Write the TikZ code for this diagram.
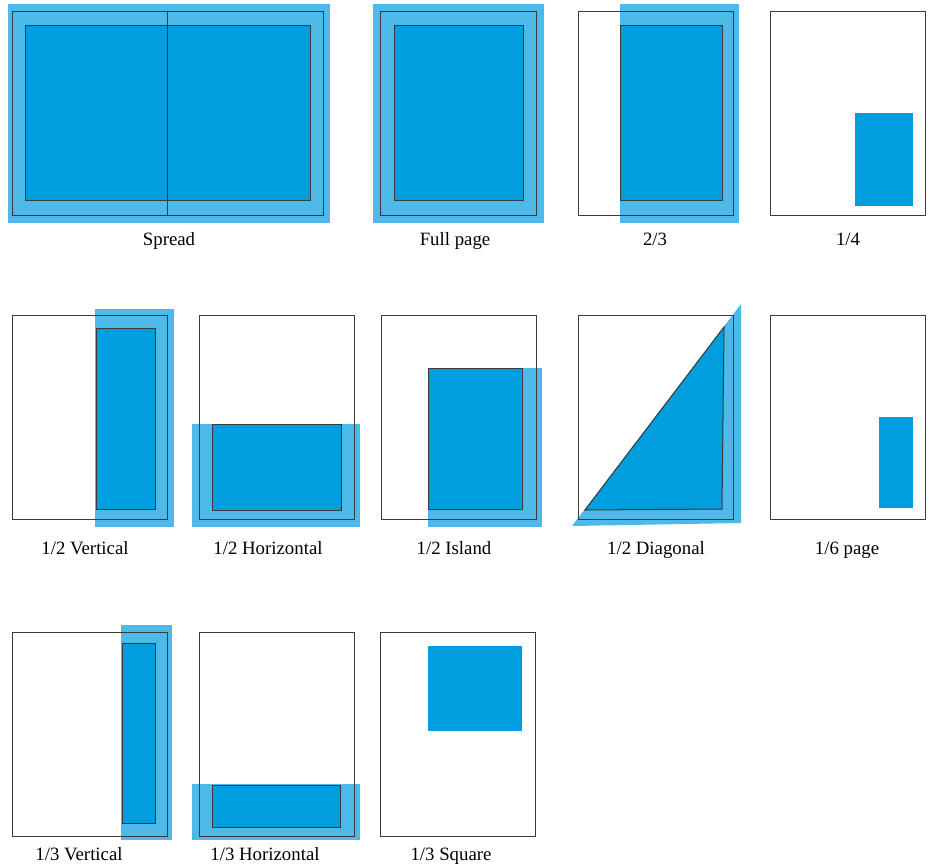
\documentclass[tikz,border=0pt]{standalone}
\usepackage{fontspec}
\setmainfont{Liberation Serif}
\usepackage{xcolor}
\usepackage{tikz}
\definecolor{bleedblue}{HTML}{4DB9E9}
\definecolor{adblue}{HTML}{009DDF}
\definecolor{trimgray}{HTML}{3A3A3A}
\tikzset{
  bleed/.style={fill=bleedblue,draw=none},
  trim/.style={draw=trimgray,line width=0.5pt},
  live/.style={fill=adblue,draw=trimgray,line width=0.5pt},
  adblock/.style={fill=adblue,draw=none},
  caption/.style={anchor=base,inner sep=0pt,font=\fontsize{9.4}{11}\selectfont}
}

\begin{document}
\begin{tikzpicture}[x=0.5pt, y=-0.5pt]
    \useasboundingbox (0,0) rectangle (929,863);

    \fill[bleed] (8,4) rectangle (330,223);
    \draw[trim] (12,11) rectangle (323,215);
    \draw[live] (25,25) rectangle (310,200);
    \draw[trim] (167.5,11) -- (167.5,215);
    \node[caption] (spread) at (169,245) {Spread};

    \fill[bleed] (373,4) rectangle (544,223);
    \draw[trim] (380,11) rectangle (536,215);
    \draw[live] (394,25) rectangle (523,200);
    \node[caption] (fullpage) at (455,245) {Full page};

    \fill[bleed] (620,4) rectangle (739,223);
    \draw[trim] (578,11) rectangle (733,215);
    \draw[live] (620,25) rectangle (722,200);
    \node[caption] (twothirds) at (655,245) {2/3};

    \draw[trim] (770,11) rectangle (925,215);
    \fill[adblock] (855,113) rectangle (913,206);
    \node[caption] (quarter) at (848,245) {1/4};

    \fill[bleed] (95,309) rectangle (174,527);
    \draw[trim] (12,315) rectangle (167,519);
    \draw[live] (96,328) rectangle (155,509);
    \node[caption] (halfvert) at (85,554) {1/2 Vertical};

    \fill[bleed] (192,424) rectangle (360,527);
    \draw[trim] (199,315) rectangle (354,519);
    \draw[live] (212,424) rectangle (341,510);
    \node[caption] (halfhoriz) at (268,554) {1/2 Horizontal};

    \fill[bleed] (428,368) rectangle (542,527);
    \draw[trim] (381,315) rectangle (536,519);
    \draw[live] (428,368) rectangle (522,509);
    \node[caption] (halfisland) at (454,554) {1/2 Island};

    \fill[bleed] (572,526) -- (741,304) -- (741,523) -- cycle;
    \draw[trim] (578,315) rectangle (733,519);
    \draw[live] (585,510) -- (724,327) -- (722,509) -- cycle;
    \node[caption] (halfdiag) at (656,554) {1/2 Diagonal};

    \draw[trim] (770,315) rectangle (925,519);
    \fill[adblock] (879,417) rectangle (913,508);
    \node[caption] (sixth) at (847,554) {1/6 page};

    \fill[bleed] (121,625) rectangle (172,840);
    \draw[trim] (12,632) rectangle (167,836);
    \draw[live] (122,643) rectangle (155,823);
    \node[caption] (thirdvert) at (79,860) {1/3 Vertical};

    \fill[bleed] (192,784) rectangle (360,840);
    \draw[trim] (199,632) rectangle (354,836);
    \draw[live] (212,785) rectangle (340,827);
    \node[caption] (thirdhoriz) at (265,860) {1/3 Horizontal};

    \draw[trim] (380,632) rectangle (535,836);
    \fill[adblock] (428,646) rectangle (522,731);
    \node[caption] (thirdsquare) at (451,860) {1/3 Square};
\end{tikzpicture}
\end{document}
